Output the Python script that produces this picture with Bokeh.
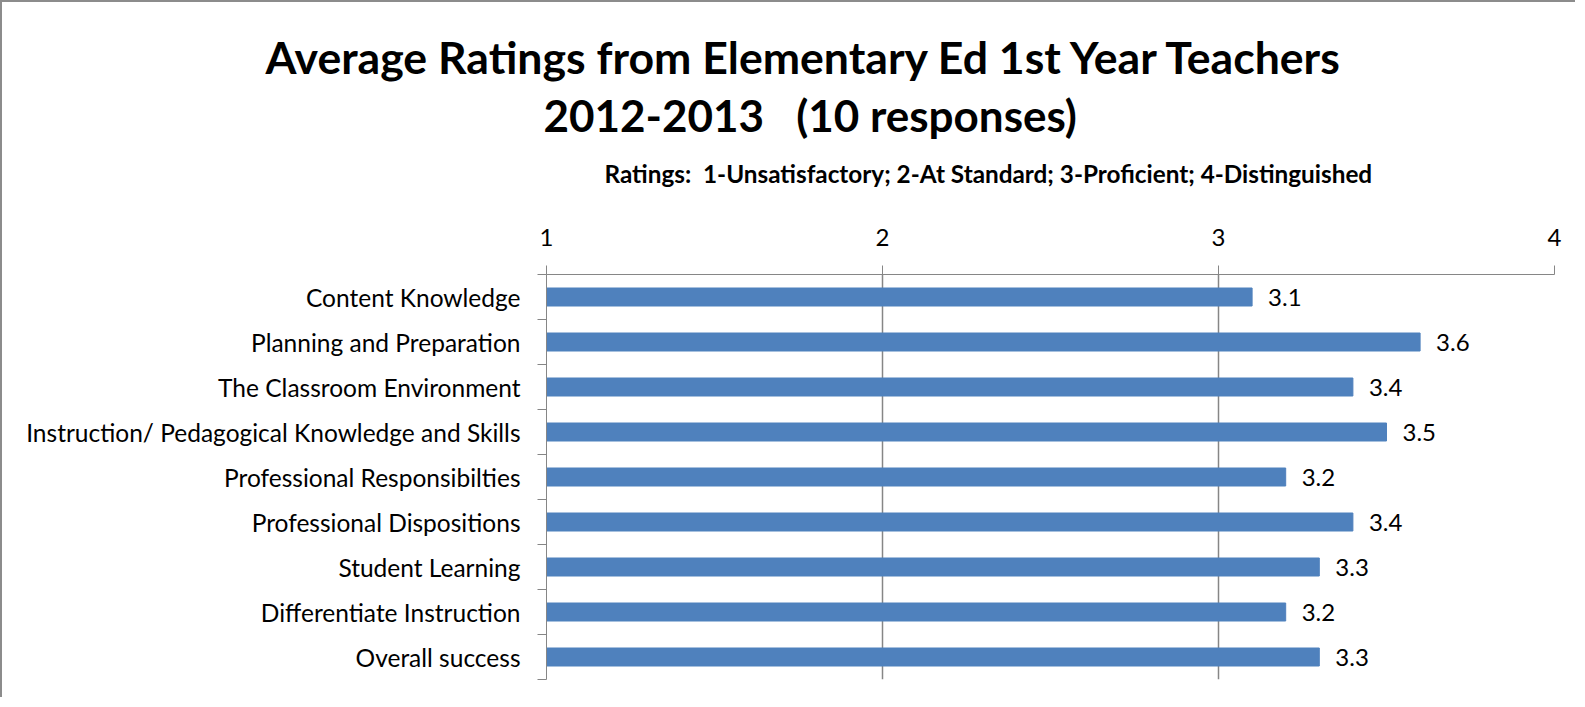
from bokeh.plotting import figure
from bokeh.models import Range1d, FixedTicker, ColumnDataSource
from bokeh.embed import file_html
from bokeh.resources import INLINE
from bokeh.core.properties import value
import numpy as np

categories = [
    "Content Knowledge",
    "Planning and Preparation",
    "The Classroom Environment",
    "Instruction/ Pedagogical Knowledge and Skills",
    "Professional Responsibilties",
    "Professional Dispositions",
    "Student Learning",
    "Differentiate Instruction",
    "Overall success",
]
ratings = [3.1, 3.6, 3.4, 3.5, 3.2, 3.4, 3.3, 3.2, 3.3]
x_ticks = [1, 2, 3, 4]

NB = "\u00a0"
title_line1 = "Average Ratings from Elementary Ed 1st Year Teachers"
title_line2 = f"2012-2013{NB}{NB}{NB}(10 responses)"
subtitle = f"Ratings:{NB} 1-Unsatisfactory; 2-At Standard; 3-Proficient; 4-Distinguished"

FONT = "Lato"
GRAY = "#868686"
BAR = "#4F81BD"

W = 1575
TH = 200   # height of the title strip
MH = 497   # height of the chart part

# ---- title strip: a bare figure whose frame spans the whole strip, in pixel units
tf = figure(width=W, height=TH, output_backend="svg", toolbar_location=None,
            x_range=Range1d(0, W), y_range=Range1d(TH, 0),
            x_axis_location=None, y_axis_location=None,
            min_border=0, min_border_left=0, min_border_right=0,
            min_border_top=0, min_border_bottom=0)
tf.outline_line_color = None
tf.grid.grid_line_color = None
tf.styles = {"border-top": "2px solid #8c8c8c", "border-left": "2px solid #8c8c8c"}
for txt, tx, ty, fs in [(title_line1, 263, 54, "44.6px"),
                        (title_line2, 541, 112, "44px"),
                        (subtitle, 602, 171, "24.3px")]:
    tf.text(x=[tx], y=[ty], text=[txt], text_font=value(FONT), text_font_size=fs,
            text_font_style="bold", text_color="black", text_baseline="middle",
            text_align="left")

# ---- chart
n = len(categories)
centers = np.arange(n) + 0.5
src = ColumnDataSource(dict(
    y=centers, v=ratings, lab=[f"{r:.1f}" for r in ratings],
))

p = figure(width=W, height=MH, output_backend="svg", toolbar_location=None,
           x_range=Range1d(1, 4), y_range=Range1d(n, 0), x_axis_location="above",
           min_border_left=544, min_border_right=23, min_border_bottom=18,
           min_border_top=274 - TH)
p.outline_line_color = None
p.styles = {"border-left": "2px solid #8c8c8c"}

p.hbar(y="y", left=1, right="v", height=0.4, color=BAR, source=src)
p.text(x="v", y="y", text="lab", source=src, x_offset=16, text_baseline="middle",
       text_font=value(FONT), text_font_size="24px", text_color="black")

xa = p.xaxis[0]
xa.ticker = FixedTicker(ticks=x_ticks)
xa.axis_line_color = GRAY
xa.major_tick_line_color = GRAY
xa.major_tick_out = 9
xa.major_tick_in = 0
xa.minor_tick_line_color = None
xa.major_label_text_font = FONT
xa.major_label_text_font_size = "24px"
xa.major_label_text_color = "black"
xa.major_label_standoff = 20

ya = p.yaxis[0]
ya.ticker = FixedTicker(ticks=list(centers), minor_ticks=list(range(n + 1)))
ya.major_label_overrides = {float(c): cat for c, cat in zip(centers, categories)}
ya.axis_line_color = GRAY
ya.major_tick_line_color = None
ya.major_tick_out = 0
ya.major_tick_in = 0
ya.minor_tick_line_color = GRAY
ya.minor_tick_out = 9
ya.minor_tick_in = 0
ya.major_label_text_font = FONT
ya.major_label_text_font_size = "24.5px"
ya.major_label_text_color = "black"
ya.major_label_standoff = 17

p.xgrid.grid_line_color = GRAY
p.xgrid.grid_line_width = 1.5
p.ygrid.grid_line_color = None

open("out.html", "w").write(file_html([tf, p], INLINE))
